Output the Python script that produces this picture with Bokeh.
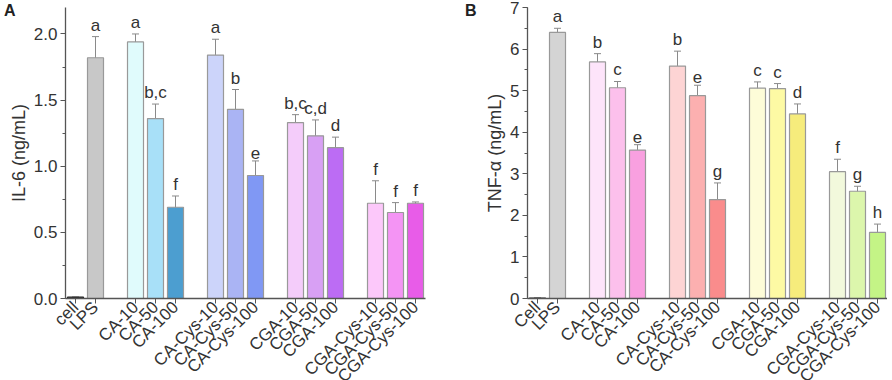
import numpy as np
from bokeh.plotting import figure
from bokeh.layouts import GridBox
from bokeh.models import (ColumnDataSource, Whisker, TeeHead, FixedTicker,
                          NumeralTickFormatter, Div)
from bokeh.core.properties import value
from bokeh.embed import file_html
from bokeh.resources import INLINE

# ---------------- data ----------------
groups_a = ["cell", "LPS", "CA-10", "CA-50", "CA-100",
            "CA-Cys-10", "CA-Cys-50", "CA-Cys-100",
            "CGA-10", "CGA-50", "CGA-100",
            "CGA-Cys-10", "CGA-Cys-50", "CGA-Cys-100"]
groups_b = ["Cell"] + groups_a[1:]
slots = [0, 1, 3, 4, 5, 7, 8, 9, 11, 12, 13, 15, 16, 17]

il6 = [0.01, 1.82, 1.94, 1.36, 0.69, 1.84, 1.43, 0.93, 1.33, 1.23, 1.14, 0.72, 0.65, 0.72]
il6_err = [0.0, 0.16, 0.06, 0.11, 0.085, 0.12, 0.15, 0.11, 0.06, 0.12, 0.08, 0.17, 0.075, 0.01]
il6_sig = ["", "a", "a", "b,c", "f", "a", "b", "e", "b,c", "c,d", "d", "f", "f", "f"]

tnf = [0.01, 6.40, 5.69, 5.07, 3.57, 5.59, 4.88, 2.38, 5.06, 5.05, 4.44, 3.05, 2.58, 1.59]
tnf_err = [0.0, 0.10, 0.20, 0.15, 0.13, 0.36, 0.25, 0.40, 0.15, 0.12, 0.24, 0.30, 0.12, 0.20]
tnf_sig = ["", "a", "b", "c", "e", "b", "e", "g", "c", "c", "d", "f", "g", "h"]

colors_a = ["#222222", "#c8c8c8", "#e0fbfc", "#a8e0f8", "#4c9ed0",
            "#ccd4fa", "#aab4f4", "#8098f4",
            "#f4ccfa", "#d8a0f4", "#bc6cf4",
            "#fcc8fa", "#f494f4", "#e85ce8"]
colors_b = ["#222222", "#d4d4d4", "#fde4fa", "#fcc0ec", "#f9a0e0",
            "#fdd4d4", "#fcb0b0", "#fa8c8c",
            "#fdfcd8", "#fdfaa4", "#f6ec7c",
            "#f2f9dc", "#dcf6ac", "#c4f486"]

FONT = "Liberation Sans"
TXT = "#333333"


def panel(names, vals, errs, sig, cols, ymax, ticks, fmt, ylabel,
          border_left, border_right):
    p = figure(width=border_left + 360 + border_right, height=380,
               output_backend="svg", toolbar_location=None,
               x_range=(-0.5, 17.5), y_range=(0, ymax),
               min_border_left=border_left, min_border_right=border_right,
               min_border_top=7, min_border_bottom=0,
               frame_width=360, frame_height=291)
    p.outline_line_color = None
    p.grid.visible = False
    vals = np.array(vals)
    errs = np.array(errs)
    src = ColumnDataSource(dict(x=slots, top=vals, upper=vals + errs,
                                lower=vals - errs, col=cols,
                                line=["#222222"] + ["#999999"] * (len(vals) - 1),
                                sig=sig))
    p.vbar(x="x", top="top", width=0.8, source=src, fill_color="col",
           line_color="line", line_width=1.2)
    w = Whisker(source=src, base="x", upper="upper", lower="lower",
                line_color="#8a8a8a", line_width=1,
                upper_head=TeeHead(size=7, line_color="#8a8a8a", line_width=1),
                lower_head=TeeHead(size=7, line_color="#8a8a8a", line_width=1))
    p.add_layout(w)
    p.text(x="x", y="upper", text="sig", source=src, text_align="center",
           text_baseline="bottom", y_offset=-2, text_font=value(FONT),
           text_font_size="17px", text_color=TXT)

    p.yaxis.ticker = FixedTicker(ticks=ticks,
                                 minor_ticks=list(np.arange(0, ymax + 1e-9, (ticks[1] - ticks[0]) / 2)))
    p.yaxis.formatter = NumeralTickFormatter(format=fmt)
    p.yaxis.axis_label = ylabel
    p.xaxis.ticker = FixedTicker(ticks=slots)
    p.xaxis.major_label_overrides = {s: n for s, n in zip(slots, names)}
    p.xaxis.major_label_orientation = np.pi / 4
    for ax in (p.xaxis, p.yaxis):
        ax.axis_line_color = "#555555"
        ax.axis_line_width = 1.3
        ax.major_tick_line_color = "#555555"
        ax.minor_tick_line_color = "#555555"
        ax.major_tick_out = 5
        ax.major_tick_in = 0
        ax.minor_tick_out = 3
        ax.minor_tick_in = 0
        ax.major_label_text_font = FONT
        ax.major_label_text_color = TXT
        ax.axis_label_text_font = FONT
        ax.axis_label_text_color = TXT
        ax.axis_label_text_font_style = "normal"
    p.xaxis.minor_tick_line_color = None
    p.yaxis.major_label_text_font_size = "17px"
    p.xaxis.major_label_text_font_size = "17px"
    p.xaxis.major_label_standoff = 1
    p.yaxis.axis_label_text_font_size = "18px"
    p.yaxis.major_label_standoff = 3
    p.yaxis.axis_label_standoff = 2
    return p


def letter_div(text, left):
    return Div(text=text, width=24, height=22, margin=(0, 0, 0, 0),
               align="start",
               styles={"font-family": FONT, "font-weight": "bold",
                       "font-size": "16px", "color": "#222222",
                       "padding-left": f"{left}px", "padding-top": "3px",
                       "line-height": "16px"})


pa = panel(groups_a, il6, il6_err, il6_sig, colors_a, 2.2,
           [0, 0.5, 1.0, 1.5, 2.0], "0.0", "IL-6 (ng/mL)", 65, 14)
pb = panel(groups_b, tnf, tnf_err, tnf_sig, colors_b, 7,
           [0, 1, 2, 3, 4, 5, 6, 7], "0", "TNF-\u03b1 (ng/mL)", 88, 0)

layout = GridBox(children=[(pa, 0, 0), (letter_div("A", 4), 0, 0),
                           (pb, 0, 1), (letter_div("B", 26), 0, 1)])
open("out.html", "w").write(file_html(layout, INLINE))
